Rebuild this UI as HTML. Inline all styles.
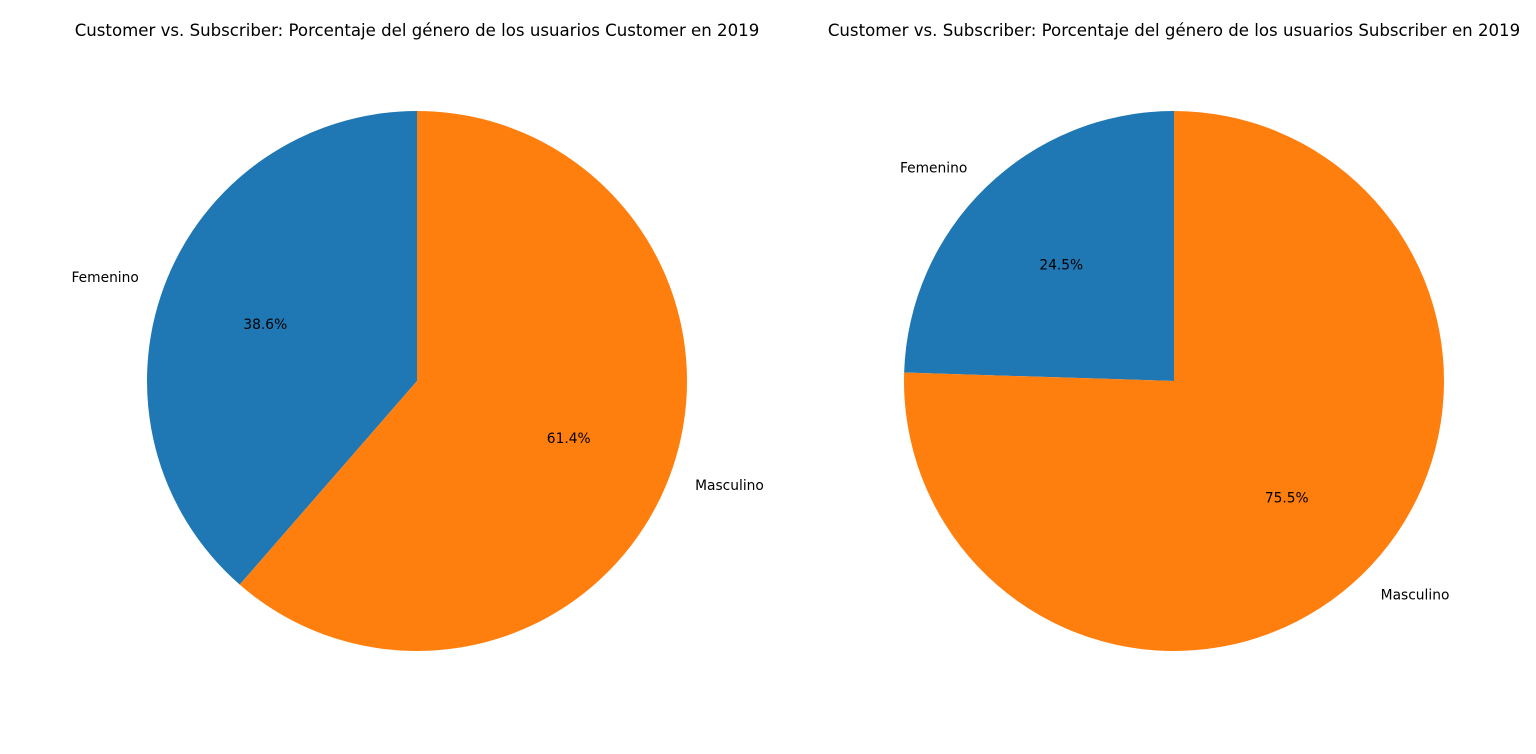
<!DOCTYPE html>
<html><head><meta charset="utf-8">
<style>
html,body{margin:0;padding:0;background:#fff;}
svg{display:block;font-family:"DejaVu Sans","Liberation Sans",sans-serif;}
</style></head>
<body>
<svg id="chart" width="1536" height="754" viewBox="0 0 1536 754"></svg>
<script>
const categories = ["Femenino", "Masculino"];
const customerValues = [38.6, 61.4];
const subscriberValues = [24.5, 75.5];
const titles = [
  "Customer vs. Subscriber: Porcentaje del género de los usuarios Customer en 2019",
  "Customer vs. Subscriber: Porcentaje del género de los usuarios Subscriber en 2019"
];
const colors = ["#1f77b4", "#ff7f0e"];
const NS = "http://www.w3.org/2000/svg";
const svg = document.getElementById("chart");

function mk(tag, attrs, parent) {
  const e = document.createElementNS(NS, tag);
  for (const k in attrs) e.setAttribute(k, attrs[k]);
  parent.appendChild(e);
  return e;
}

function drawPie(values, cx, cy, r, title, key) {
  const g = mk("g", {}, svg);
  
  
  const t = mk("text", {x: cx, y: 36, "text-anchor": "middle", "font-size": "16.6", fill: "#000"}, g);
  t.textContent = title;
  
  
  const total = values.reduce((a, b) => a + b, 0);
  let a0 = 90;
  values.forEach((v, i) => {
    const sweep = v / total * 360;
    const a1 = a0 + sweep;
    const rad = d => d * Math.PI / 180;
    const x0 = cx + r * Math.cos(rad(a0)), y0 = cy - r * Math.sin(rad(a0));
    const x1 = cx + r * Math.cos(rad(a1)), y1 = cy - r * Math.sin(rad(a1));
    const large = sweep > 180 ? 1 : 0;
    const p = mk("path", {d: `M${cx},${cy} L${x0},${y0} A${r},${r} 0 ${large} 0 ${x1},${y1} Z`, fill: colors[i]}, g);
    
    
    const mid = rad((a0 + a1) / 2);
    const lx = cx + 1.1 * r * Math.cos(mid), ly = cy - 1.1 * r * Math.sin(mid);
    const lab = mk("text", {x: lx, y: ly + 5, "text-anchor": Math.cos(mid) >= 0 ? "start" : "end", "font-size": "13.8", fill: "#000"}, g);
    lab.textContent = categories[i];
    
    
    const px = cx + 0.6 * r * Math.cos(mid), py = cy - 0.6 * r * Math.sin(mid);
    const pct = mk("text", {x: px, y: py + 5, "text-anchor": "middle", "font-size": "13.8", fill: "#000"}, g);
    pct.textContent = (v / total * 100).toFixed(1) + "%";
    
    
    a0 = a1;
  });
}
drawPie(customerValues, 417, 381, 270, titles[0], "customer");
drawPie(subscriberValues, 1174, 381, 270, titles[1], "subscriber");
</script>
</body></html>
